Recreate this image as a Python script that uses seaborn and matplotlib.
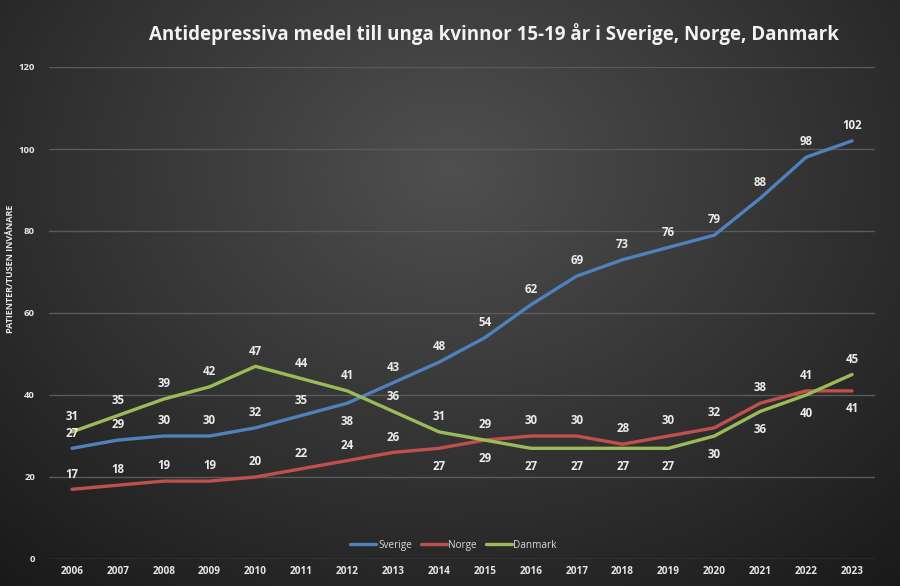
import numpy as np
import pandas as pd
import matplotlib
matplotlib.use("Agg")
import matplotlib.pyplot as plt
import seaborn as sns

years = [2006, 2007, 2008, 2009, 2010, 2011, 2012, 2013, 2014, 2015,
         2016, 2017, 2018, 2019, 2020, 2021, 2022, 2023]
sverige = [27, 29, 30, 30, 32, 35, 38, 43, 48, 54, 62, 69, 73, 76, 79, 88, 98, 102]
norge = [17, 18, 19, 19, 20, 22, 24, 26, 27, 29, 30, 30, 28, 30, 32, 38, 41, 41]
danmark = [31, 35, 39, 42, 47, 44, 41, 36, 31, 29, 27, 27, 27, 27, 30, 36, 40, 45]
series_names = ["Sverige", "Norge", "Danmark"]
title = "Antidepressiva medel till unga kvinnor 15-19 år i Sverige, Norge, Danmark"
ylabel = "PATIENTER/TUSEN INVÅNARE"

# label placement: +1 above, -1 below
place = {
    "Sverige": [1] * 6 + [-1] + [1] * 11,
    "Norge": [1] * 8 + [-1, -1] + [1] * 7 + [-1],
    "Danmark": [1] * 10 + [-1] * 7 + [1],
}
colors = {"Sverige": "#4F81BD", "Norge": "#C0504D", "Danmark": "#9BBB59"}

df = pd.DataFrame({
    "year": [str(y) for y in years] * 3,
    "value": sverige + norge + danmark,
    "serie": [s for s in series_names for _ in years],
})

sns.set_theme(style="white")
plt.rcParams["font.family"] = ["Open Sans", "DejaVu Sans"]

fig = plt.figure(figsize=(9, 5.86), dpi=100)

# radial gradient background
bg = fig.add_axes([0, 0, 1, 1], zorder=-10)
h, w = 586, 900
yy, xx = np.mgrid[0:h, 0:w]
cx, cy = 450, 170
r = np.sqrt(((xx - cx) / 650.0) ** 2 + ((yy - cy) / 520.0) ** 2)
val = np.clip(0.31 - 0.20 * r, 0.09, 0.31)
img = np.dstack([val, val, val])
bg.imshow(img, aspect="auto", extent=[0, 1, 0, 1])
bg.axis("off")

ax = fig.add_axes([49 / 900, 1 - 559 / 586, 826 / 900, 492 / 586])
ax.set_facecolor("none")

sns.lineplot(data=df, x="year", y="value", hue="serie", palette=colors,
             linewidth=2.4, ax=ax, sort=False)

ax.set_ylim(0, 120)
ax.set_xlim(-0.5, len(years) - 0.5)
ax.set_yticks(range(0, 121, 20))
ax.grid(axis="y", color="#5a5a5a", linewidth=1)
ax.grid(axis="x", visible=False)
for s in ax.spines.values():
    s.set_visible(False)
ax.tick_params(axis="y", length=0, pad=10, labelsize=6.8, labelcolor="#e6e6e6")
ax.tick_params(axis="x", length=0, pad=5, labelsize=7.2, labelcolor="#e6e6e6")
for lab in ax.get_xticklabels() + ax.get_yticklabels():
    lab.set_fontweight("bold")
ax.set_xlabel("")
ax.set_ylabel("")
fig.text(11 / 900, 1 - 269 / 586, ylabel, rotation=90, ha="center", va="center",
         fontsize=6.5, fontweight="bold", color="#e6e6e6")

data = {"Sverige": sverige, "Norge": norge, "Danmark": danmark}
for name in series_names:
    for i, v in enumerate(data[name]):
        off = 11 if place[name][i] > 0 else -13
        ax.annotate(str(v), (i, v), xytext=(0, off), textcoords="offset points",
                    ha="center", va="center", fontsize=8.3, fontweight="bold",
                    color="#ececec")

leg = ax.legend(loc="center", bbox_to_anchor=(0.49, 0.028), ncol=3, frameon=False,
                fontsize=7.2, handlelength=2.6, handletextpad=0.15, columnspacing=0.9)
for t in leg.get_texts():
    t.set_color("#d9d9d9")
for l in leg.get_lines():
    l.set_linewidth(2.4)

fig.text(494 / 900, 1 - 34 / 586, title, ha="center", va="center",
         fontsize=13.5, fontweight="bold", color="#f2f2f2")

fig.savefig("out.png", dpi=100)
